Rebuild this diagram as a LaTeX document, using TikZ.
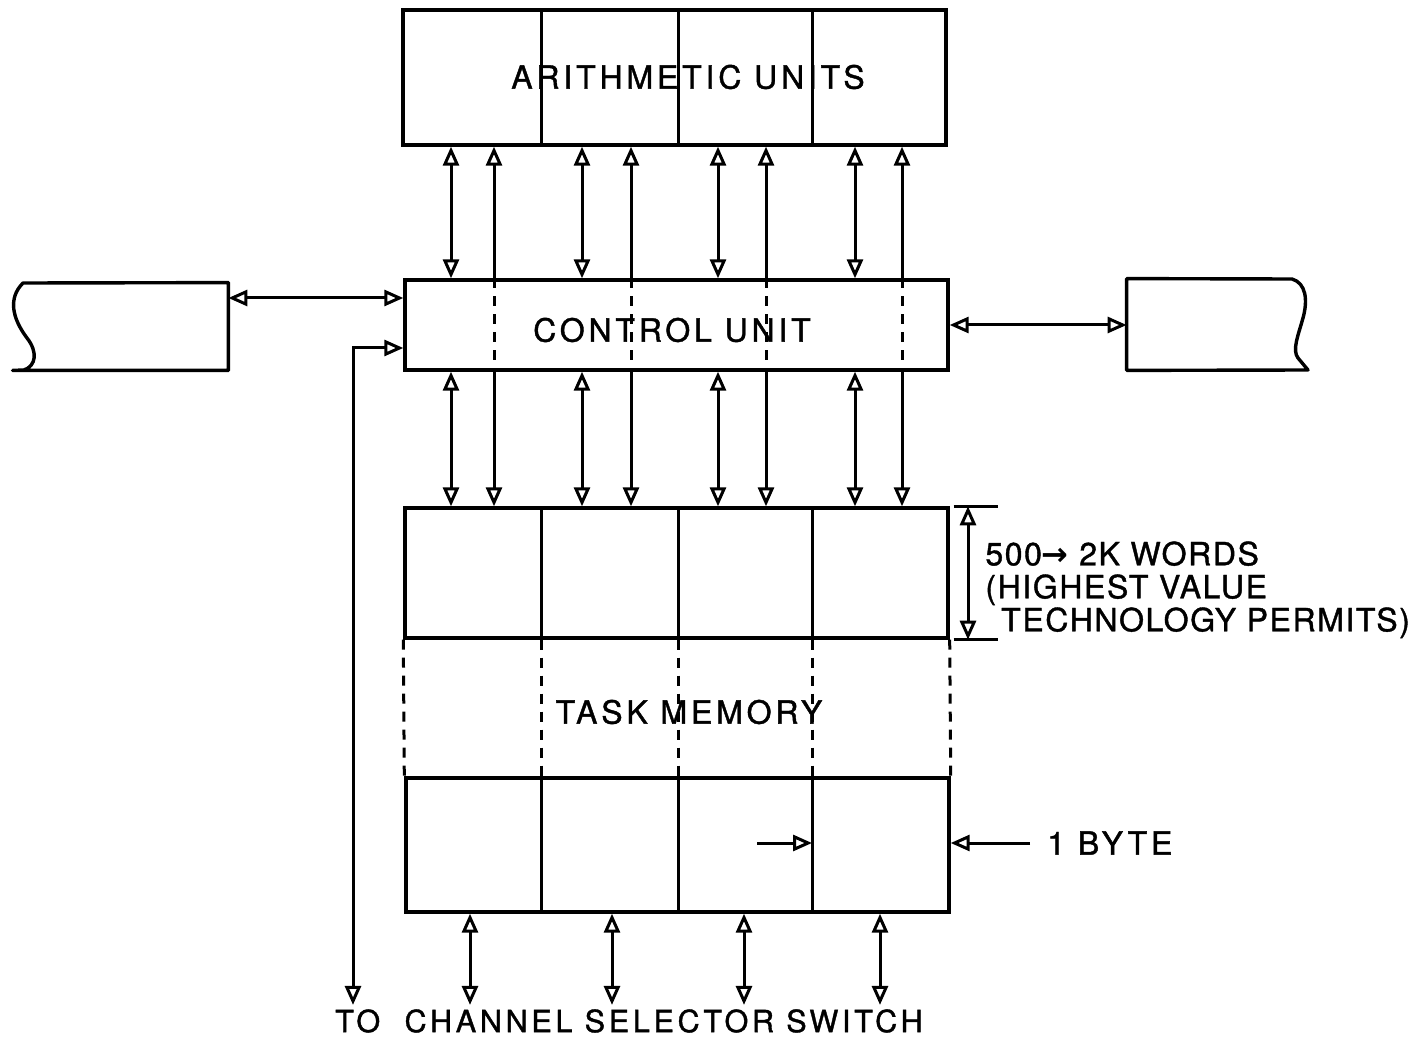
\documentclass[tikz,border=0pt]{standalone}
\usepackage{fontspec}
\setmainfont{TeX Gyre Heros}
\newfontfamily\lettering[LetterSpace=12,FakeBold=1.2]{TeX Gyre Heros}
\newfontfamily\sidelettering[LetterSpace=5,FakeBold=1.2]{TeX Gyre Heros}
\newfontfamily\arrowfont{DejaVu Sans}
\usetikzlibrary{arrows.meta}

\begin{document}
\begin{tikzpicture}[x=0.5pt,y=-0.5pt,>={Triangle[open,length=9.5pt,width=8pt]},
  unit/.style={draw,line width=1.7pt,inner sep=0pt},
  rim/.style={line width=1.7pt,line join=round},
  cut/.style={line width=1.5pt},
  dcut/.style={line width=1.5pt,dash pattern=on 5pt off 4pt},
  arr/.style={line width=1.5pt},
  lbl/.style={font=\lettering\fontsize{16}{19}\selectfont,inner sep=0pt},
  side/.style={font=\sidelettering\fontsize{16}{16.5}\selectfont,inner sep=0pt,align=left}]
\useasboundingbox (0,0) rectangle (1426,1043);
% lanes
\foreach \n/\x in {v1/541,v2/678,v3/812,a1/451,a2/582,a3/718,a4/855,b1/494,b2/631,b3/766,b4/902,c1/470,c2/612,c3/744,c4/880,tcs/353,dim/968,tk/998}
  \coordinate (\n) at (\x,0);
\foreach \n/\y in {r1/298,r2/348}
  \coordinate (\n) at (0,\y);

\node[unit,minimum width=271.5pt,minimum height=67.5pt] (arith) at (674.5,77.5) {};
\node[unit,minimum width=271.5pt,minimum height=45pt] (ctrl) at (676.5,325) {};
\node[unit,minimum width=271.5pt,minimum height=65pt] (memtop) at (676.5,573) {};
\node[unit,minimum width=271.5pt,minimum height=67pt] (membot) at (677.5,845) {};
\node[inner sep=0pt,minimum width=107.5pt,minimum height=43.5pt] (lbox) at (120.5,326.5) {};
\node[inner sep=0pt,minimum width=90pt,minimum height=45.5pt] (rbox) at (1217,324.5) {};

\node[lbl] (arithlbl) at (688,77) {ARITHMETIC UNITS};
\node[lbl] (ctrllbl) at (672,330) {CONTROL UNIT};
\node[lbl] (memlbl) at (689,712) {TASK MEMORY};
\node[lbl,font=\lettering\fontsize{15.3}{18}\selectfont,inner sep=2pt] (chan) at (629,1021) {TO\ \ CHANNEL SELECTOR SWITCH};
\node[side,anchor=north west] (words) at (985,541) {500{\arrowfont\bfseries→} 2K WORDS\\(HIGHEST VALUE\\\ \,TECHNOLOGY PERMITS)};
\node[lbl,anchor=west,inner xsep=8.5pt] (byte) at (1030,843) {1 BYTE};
\coordinate (bin) at (757,843);

% wavy side boxes
\draw[rim] (23,283) -- (lbox.north east) -- (lbox.south east) -- (lbox.south west) -- (24,370)
  .. controls (36,366) and (38,352) .. (27,338) .. controls (12,318) and (8,298) .. cycle;
\draw[rim] (rbox.north west) -- (1292,279) .. controls (1306,283) and (1308,300) .. (1303,318)
  .. controls (1298,336) and (1292,350) .. (1298,358) -- (1308,370) -- (rbox.south west) -- cycle;

\foreach \v in {v1,v2,v3} {
  \draw[cut] (arith.north -| \v) -- (arith.south -| \v);
  \draw[cut] (memtop.north -| \v) -- (memtop.south -| \v);
  \draw[cut] (membot.north -| \v) -- (membot.south -| \v);
  \draw[dcut] (memtop.south -| \v) -- (membot.north -| \v);
}
\draw[dcut] (memtop.south west) -- (membot.north west);
\draw[dcut] (memtop.south east) -- (membot.north east);
\foreach \b in {b1,b2,b3,b4} {
  \draw[dcut] (ctrl.north -| \b) -- (ctrl.south -| \b);
  \draw[arr,->] (ctrl.north -| \b) -- (arith.south -| \b);
  \draw[arr,->] (ctrl.south -| \b) -- (memtop.north -| \b);
}
\foreach \a in {a1,a2,a3,a4} {
  \draw[arr,<->] (arith.south -| \a) -- (ctrl.north -| \a);
  \draw[arr,<->] (ctrl.south -| \a) -- (memtop.north -| \a);
}
\foreach \c in {c1,c2,c3,c4}
  \draw[arr,<->] (membot.south -| \c) -- (chan.north -| \c);

\draw[arr,<->] (lbox.east |- r1) -- (ctrl.west |- r1);
\draw[arr,<->] (chan.north -| tcs) |- (ctrl.west |- r2);
\draw[arr,<->] (ctrl.east) -- (rbox.west |- ctrl.east);

\draw[arr,<->] (memtop.north -| dim) -- (memtop.south -| dim);
\draw[cut] ([xshift=2pt]memtop.north east) -- (memtop.north -| tk);
\draw[cut] ([xshift=2pt]memtop.south east) -- (memtop.south -| tk);

\draw[arr,->] (bin) -- (bin -| v3);
\draw[arr,->] (byte.west) -- (byte.west -| membot.east);
\end{tikzpicture}
\end{document}
